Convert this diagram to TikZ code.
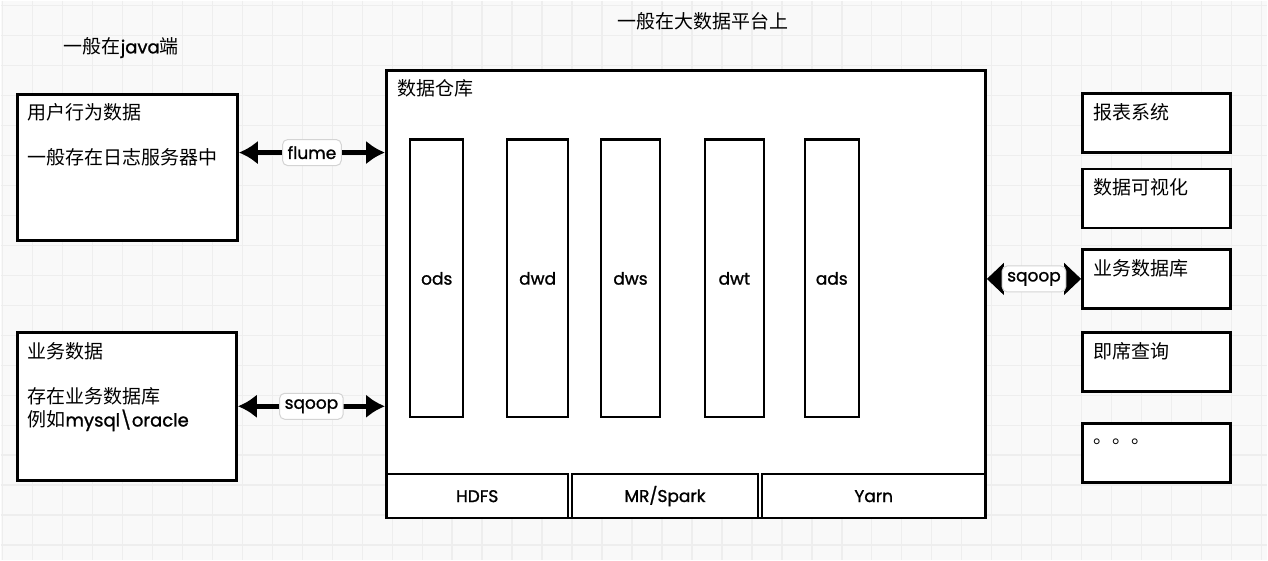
\documentclass[tikz,border=0pt]{standalone}
\usepackage{fontspec}
\setmainfont{Poppins}[FakeBold=1.2]
\newfontfamily\cjk{Noto Sans CJK SC}
\usetikzlibrary{arrows.meta,positioning}
\newcommand{\lat}[1]{{\normalfont\fontsize{18}{23}\selectfont #1}}
\definecolor{canvas}{HTML}{F9F9F9}
\definecolor{gridgrey}{HTML}{EEEEEE}
\definecolor{tagborder}{HTML}{D4D4D4}

\begin{document}
\begin{tikzpicture}[x=1pt,y=-1pt,
    every node/.style={font=\fontsize{17}{21}\selectfont},
    pane/.style={draw,fill=white,line width=2.8pt,inner sep=0pt},
    layer/.style={draw,fill=white,line width=2.2pt,inner sep=0pt,minimum height=278},
    basecell/.style={draw,fill=white,line width=2.6pt,inner sep=0pt,minimum height=44},
    caption/.style={anchor=west,inner sep=0pt,align=left,font=\cjk\fontsize{19}{23}\selectfont},
    tag/.style={draw=tagborder,fill=white,rounded corners=5pt,line width=1pt,inner xsep=5pt,inner ysep=0pt,minimum height=26},
    pipe/.style={line width=5.5pt,{Latex[length=19pt,width=24pt]}-{Latex[length=19pt,width=24pt]}},
    sidepipe/.style={line width=1pt,{Triangle[length=17pt,width=32pt]}-{Triangle[length=17pt,width=32pt]}}]

	% background grid
	\fill[canvas] (0,0) rectangle (1268,560);
	\foreach \gx in {2,32,...,1262} {
			\draw[gridgrey,line width=1.5pt] (\gx,0) -- (\gx,560);
		}
	\foreach \gy in {5,35,...,545} {
			\draw[gridgrey,line width=1.5pt] (0,\gy) -- (1268,\gy);
		}
	\useasboundingbox (0,0) rectangle (1268,560);

	\node[caption] (javaside) at (63,47) {一般在\lat{java}端};
	\node[caption] (platform) at (617,21) {一般在大数据平台上};

	% sources
	\node[pane,minimum width=220,minimum height=146] (userlog) at (127,167) {};
	\node[caption] (userlogtitle) at ([shift={(11,19)}]userlog.north west) {用户行为数据};
	\node[caption] (userlognote) at ([shift={(11,64)}]userlog.north west) {一般存在日志服务器中};

	\node[pane,minimum width=219,minimum height=148] (bizsrc) at (126.5,406) {};
	\node[caption] (bizsrctitle) at ([shift={(11,20)}]bizsrc.north west) {业务数据};
	\node[caption] (bizsrcnote) at ([shift={(11,78.5)}]bizsrc.north west) {存在业务数据库\\例如\lat{mysql\textbackslash oracle}};

	% warehouse
	\node[pane,line width=2.6pt,minimum width=600,minimum height=448] (dw) at (686,294) {};
	\node[caption] (dwtitle) at ([shift={(12,19)}]dw.north west) {数据仓库};

	\foreach \name/\cx/\w in {ods/436.5/53,dwd/537.5/61,dws/630.5/59,dwt/734.5/59,ads/832/54} {
			\node[layer,minimum width=\w] (\name) at (\cx,278) {\name};
		}

	\foreach \name/\cx/\w/\txt in {hdfs/477/182/HDFS,compute/665/186/{MR/Spark},yarn/874/224/Yarn} {
			\node[basecell,minimum width=\w] (\name) at (\cx,496) {\txt};
		}

	% consumers
	\foreach \name/\cy/\txt in {report/122.5/报表系统,visual/198/数据可视化,bizdb/278.5/业务数据库,adhoc/362/即席查询,more/452.5/。。。} {
			\node[pane,minimum width=148,minimum height=59] (\name) at (1157,\cy) {};
			\node[caption] (\name txt) at ([shift={(12,20)}]\name.north west) {\txt};
		}

	% transfers
	\coordinate (flumein) at ([yshift=15pt]userlog.east);
	\draw[pipe] (flumein) -- (flumein -| dw.west) node[tag,midway] (flumetag) {flume};
	\draw[pipe] (bizsrc.east) -- (bizsrc.east -| dw.west) node[tag,midway] (sqoopin) {sqoop};
	\draw[sidepipe] (bizdb.west -| dw.east) -- (bizdb.west) node[tag,midway] (sqoopout) {sqoop};
\end{tikzpicture}
\end{document}
